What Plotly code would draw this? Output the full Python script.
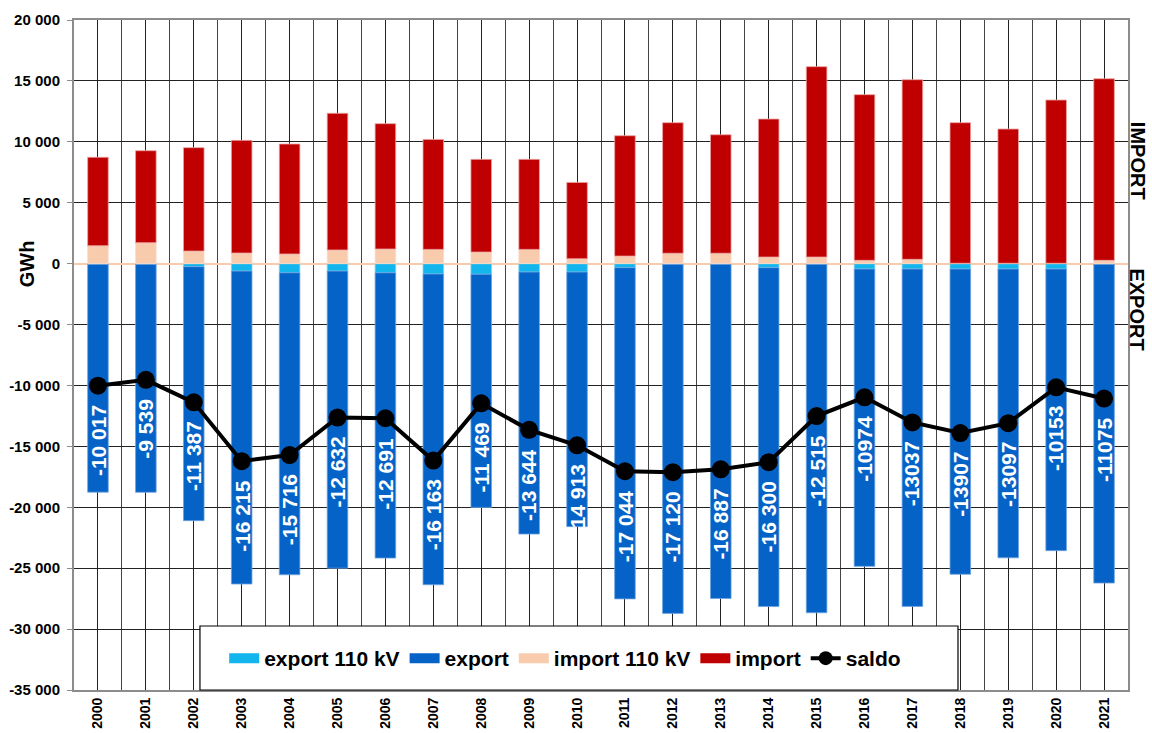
import plotly.graph_objects as go

years = list(range(2000, 2022))
year_labels = [str(y) for y in years]

import_110kv = [1470, 1720, 1030, 870, 790, 1120, 1200, 1170, 950, 1170, 400,
                620, 850, 850, 540, 540, 270, 350, 30, 30, 30, 270]
import_main = [7260, 7550, 8490, 9250, 9030, 11220, 10290, 9030, 7610, 7390, 6270,
               9880, 10720, 9730, 11330, 15630, 13600, 14750, 11540, 11020, 13400, 14910]
export_110kv = [-60, -60, -250, -610, -750, -610, -750, -850, -870, -690, -690,
                -330, -50, -50, -330, -50, -440, -440, -440, -440, -440, -50]
export_main = [-18700, -18710, -20850, -25690, -24790, -24390, -23420, -25510, -19140, -21510, -20900,
               -27190, -28660, -27440, -27820, -28610, -24410, -27700, -25060, -23710, -23120, -26170]
saldo = [-10017, -9539, -11387, -16215, -15716, -12632, -12691, -16163, -11469, -13644, -14913,
         -17044, -17120, -16887, -16300, -12515, -10974, -13037, -13907, -13097, -10153, -11075]
saldo_labels = ["-10 017", "-9 539", "-11 387", "-16 215", "-15 716", "-12 632", "-12 691",
                "-16 163", "-11 469", "-13 644", "14 913", "-17 044", "-17 120", "-16 887",
                "-16 300", "-12 515", "-10974", "-13037", "-13907", "-13097", "-10153", "-11075"]
y_tickvals = [20000, 15000, 10000, 5000, 0, -5000, -10000, -15000, -20000, -25000, -30000, -35000]
y_ticktext = ["20 000", "15 000", "10 000", "5 000", "0", "-5 000", "-10 000", "-15 000",
              "-20 000", "-25 000", "-30 000", "-35 000"]

FONT = "Liberation Sans, Arial, sans-serif"
BW = 0.43

series = [
    ("export 110 kV", export_110kv, "#12B5EC", "#7FD3F3"),
    ("export", export_main, "#0563C8", "#6FA3E0"),
    ("import 110 kV", import_110kv, "#F8CBAD", "#FBDCCB"),
    ("import", import_main, "#C00000", "#EBA3A3"),
]

fig = go.Figure()
for name, vals, col, edge in series:
    fig.add_trace(go.Bar(x=years, y=vals, name=name, width=BW, showlegend=False,
                         legendgroup=name,
                         marker=dict(color=col, line=dict(color=edge, width=0.8))))
fig.add_trace(go.Scatter(x=years, y=saldo, name="saldo", mode="lines+markers",
                         line=dict(color="black", width=4), showlegend=False,
                         legendgroup="saldo",
                         marker=dict(color="black", size=18)))
# legend entries (wide rectangular swatches like the original)
for name, vals, col, edge in series:
    fig.add_trace(go.Scatter(x=[None], y=[None], name=name, mode="lines", legendgroup=name,
                             line=dict(color=col, width=14)))
fig.add_trace(go.Scatter(x=[None], y=[None], name="saldo", mode="lines+markers", legendgroup="saldo",
                         line=dict(color="black", width=4), marker=dict(color="black", size=14)))

annotations = []
for yr, s, lab in zip(years, saldo, saldo_labels):
    annotations.append(dict(x=yr, y=s, xref="x", yref="y", text=lab, showarrow=False,
                            textangle=-90, yanchor="top", xanchor="center", yshift=-17,
                            font=dict(family=FONT, size=21, color="white", weight="bold")))
annotations.append(dict(x=-0.045, y=0, xref="paper", yref="y", text="GWh", showarrow=False,
                        textangle=-90, xanchor="center", yanchor="middle",
                        font=dict(family=FONT, size=20, color="black", weight="bold")))
annotations.append(dict(x=1.009, y=8400, xref="paper", yref="y", text="IMPORT", showarrow=False,
                        textangle=90, xanchor="center", yanchor="middle",
                        font=dict(family=FONT, size=20, color="black", weight="bold")))
annotations.append(dict(x=1.009, y=-3800, xref="paper", yref="y", text="EXPORT", showarrow=False,
                        textangle=90, xanchor="center", yanchor="middle",
                        font=dict(family=FONT, size=20, color="black", weight="bold")))

fig.update_layout(
    width=1152, height=733,
    margin=dict(l=74, r=24, t=20, b=43),
    barmode="relative",
    bargap=0.57,
    plot_bgcolor="white", paper_bgcolor="white",
    font=dict(family=FONT, color="black"),
    annotations=annotations,
    showlegend=True,
    legend=dict(orientation="h", x=0.1425, y=0.047, xanchor="left", yanchor="middle",
                bgcolor="rgba(0,0,0,0)", borderwidth=0,
                font=dict(family=FONT, size=21, color="black", weight="bold"),
                itemwidth=30, traceorder="normal"),
    shapes=[dict(type="rect", xref="paper", yref="paper", x0=0.1195, x1=0.8387,
                 y0=0.0, y1=0.0955, fillcolor="white",
                 line=dict(color="black", width=1.2), layer="above")],
)
fig.update_xaxes(
    range=[1999.5, 2021.5], automargin=False,
    tickmode="array", tickvals=years, ticktext=year_labels,
    tickangle=-90, tickfont=dict(family=FONT, size=14, color="black", weight="bold"),
    showgrid=True, gridcolor="#222222", gridwidth=1,
    minor=dict(tick0=1999.5, dtick=1, showgrid=True, gridcolor="#444444", gridwidth=1),
    showline=True, linecolor="#8c8c8c", linewidth=2, mirror=True,
    ticks="", zeroline=False,
)
fig.update_yaxes(
    range=[-35000, 20000], automargin=False,
    tickmode="array", tickvals=y_tickvals, ticktext=y_ticktext,
    tickfont=dict(family=FONT, size=15, color="black", weight="bold"),
    showgrid=True, gridcolor="#222222", gridwidth=1,
    showline=True, linecolor="#8c8c8c", linewidth=2, mirror=True,
    ticks="outside", ticklen=5, tickcolor="#8c8c8c", ticklabelstandoff=4,
    zeroline=True, zerolinecolor="#F8CBAD", zerolinewidth=2,
)

fig.write_html("out.html", config={"displayModeBar": False},
               post_script="document.body.style.margin='0';"
                           "document.documentElement.style.overflow='hidden';")
